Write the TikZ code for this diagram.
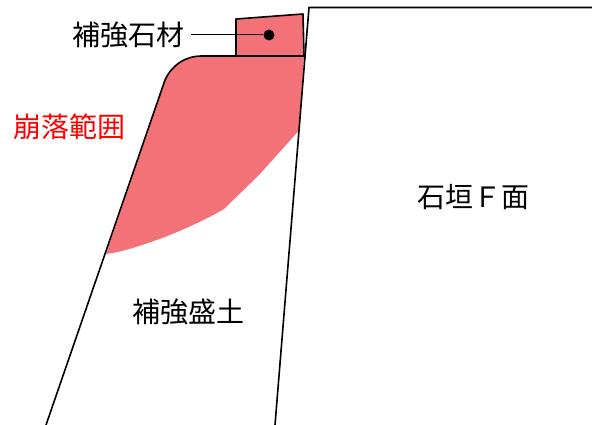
\documentclass[tikz,border=0pt]{standalone}
\usepackage{fontspec}
\newfontfamily\cjk{Noto Sans CJK JP}
\usetikzlibrary{calc,positioning}
\definecolor{collapsered}{HTML}{F27278}
\tikzset{
  label/.style={ % image of a text label
    font=\cjk\fontsize{28}{30}\selectfont, text=black, inner sep=0pt
  },
  redlabel/.style={label, text=red},
  outline/.style={draw=black, line width=1.6pt, line join=round},
  pin/.style={circle, fill=black, inner sep=0pt, minimum size=11pt}
}
\begin{document}
\begin{tikzpicture}[x=1pt,y=-1pt]
  \useasboundingbox (0,0) rectangle (592,425);

  % collapsed zone
  \fill[collapsered] (106,254) -- (165,80) .. controls (172,65) and (185,56) .. (202,56)
    -- (304,56) -- (299.5,130) -- (259,175) -- (224,209)
    .. controls (205,220) and (185,229) .. (165,237)
    .. controls (140,246) and (122,252) .. (106,254) -- cycle;
  % stone on top
  \draw[outline,fill=collapsered] (236,56) -- (236,19) -- (303,14) -- (304,56);

  % fill and wall
  \draw[outline] (46,425) -- (165,80) .. controls (172,65) and (185,56) .. (202,56) -- (304,56);
  \draw[outline] (275,425) -- (309,7.5) -- (592,7.5);

  \node[label] (stone_label) at (128,35) {補強石材};
  \node[pin] (stone_dot) at (269,35) {};
  \node[redlabel] (fall_label) at (69,127) {崩落範囲};
  \node[label] (fill_label) at (188,312) {補強盛土};
  \node[label] (wall_label) at (473.5,197) {石垣Ｆ面};

  \draw[line width=1pt, shorten <=7pt] (stone_label) -- (stone_dot);
\end{tikzpicture}
\end{document}
